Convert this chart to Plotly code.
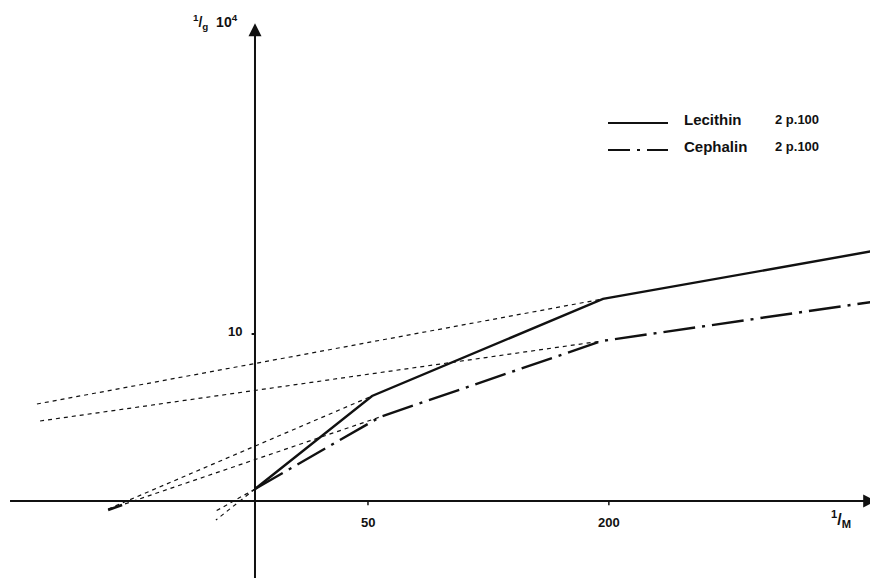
import plotly.graph_objects as go

# ---- data (axis units: x = graphical 1/M position, y = 1/g * 10^4) ----
X_TICK_LABELS = ["50", "200"]
X_TICK_POS = [50.0, 156.6]
Y_TICK_LABELS = ["10"]
Y_TICK_POS = [10.0]

lec_x = [0.0, 51.8, 154.0, 273.5]
lec_y = [0.72, 6.29, 12.10, 14.97]
cep_x = [0.0, 55.3, 153.5, 273.0]
cep_y = [0.72, 5.03, 9.58, 11.92]

# extrapolation (dotted) lines
lec_ext_last_x = [-96.5, 154.0]
lec_ext_last_y = [5.81, 12.10]
cep_ext_last_x = [-95.1, 153.5]
cep_ext_last_y = [4.79, 9.58]
lec_ext_mid_x = [-65.0, 51.8]
lec_ext_mid_y = [-0.48, 6.29]
cep_ext_mid_x = [-64.2, 55.3]
cep_ext_mid_y = [-0.48, 5.03]
lec_ext_first_x = [0.0, -17.3]
lec_ext_first_y = [0.72, -1.14]
cep_ext_first_x = [0.0, -17.3]
cep_ext_first_y = [0.72, -0.60]
start_stroke_x = [-65.0, -58.8]
start_stroke_y = [-0.54, -0.24]

X_RANGE = [-109.3, 275.7]
Y_RANGE = [-4.61, 29.52]
X_AXIS_SPAN = [-108.4, 274.0]
Y_AXIS_SPAN = [-4.61, 28.0]

W, H, OFF = 870, 570, 8   # page body margin of 8px

def px(x):
    return (x - OFF) / W

def py(y):
    return 1 - (y - OFF) / H

FONT = "Liberation Sans, Arial"
BLACK = "#111111"

fig = go.Figure()

def line(x, y, width=1.0, dash="solid"):
    fig.add_trace(go.Scatter(x=x, y=y, mode="lines",
                             line=dict(color=BLACK, width=width, dash=dash),
                             showlegend=False, hoverinfo="skip"))

dot = "4px,4px"
line(lec_ext_last_x, lec_ext_last_y, 1.2, dot)
line(cep_ext_last_x, cep_ext_last_y, 1.2, dot)
line(lec_ext_mid_x, lec_ext_mid_y, 1.2, dot)
line(cep_ext_mid_x, cep_ext_mid_y, 1.2, dot)
line(lec_ext_first_x, lec_ext_first_y, 1.2, dot)
line(cep_ext_first_x, cep_ext_first_y, 1.2, dot)
line(start_stroke_x, start_stroke_y, 2.5)

# axes
line(X_AXIS_SPAN, [0, 0], 2.0)
line([0, 0], Y_AXIS_SPAN, 2.0)

# data series
dashdot = "32px,7px,3px,7px"
line(lec_x, lec_y, 2.4)
line(cep_x, cep_y, 2.4, dashdot)

# legend samples
fig.add_shape(type="line", xref="paper", yref="paper",
              x0=px(608), x1=px(668), y0=py(123), y1=py(123),
              line=dict(color=BLACK, width=2))
fig.add_shape(type="line", xref="paper", yref="paper",
              x0=px(608), x1=px(668), y0=py(150), y1=py(150),
              line=dict(color=BLACK, width=2, dash="22px,7px,3px,7px"))
for yy, name in [(120, "Lecithin"), (146, "Cephalin")]:
    fig.add_annotation(xref="paper", yref="paper", x=px(682), y=py(yy),
                       text=f"<b>{name}</b>", showarrow=False, xanchor="left", yanchor="middle",
                       font=dict(family=FONT, size=15, color=BLACK))
    fig.add_annotation(xref="paper", yref="paper", x=px(773), y=py(yy),
                       text="<b>2 p.100</b>", showarrow=False, xanchor="left", yanchor="middle",
                       font=dict(family=FONT, size=13, color=BLACK))

# arrowheads
fig.add_annotation(x=X_RANGE[1] - 0.8, y=0, ax=X_AXIS_SPAN[1] - 10, ay=0,
                   xref="x", yref="y", axref="x", ayref="y", text="",
                   showarrow=True, arrowhead=2, arrowsize=1.3, arrowwidth=2, arrowcolor=BLACK)
fig.add_annotation(x=0, y=Y_AXIS_SPAN[1] + 0.6, ax=0, ay=Y_AXIS_SPAN[1] - 1,
                   xref="x", yref="y", axref="x", ayref="y", text="",
                   showarrow=True, arrowhead=2, arrowsize=1.3, arrowwidth=2, arrowcolor=BLACK)

# tick marks and labels
for pos, lab in zip(X_TICK_POS, X_TICK_LABELS):
    line([pos, pos], [0, -0.25], 1.5)
    fig.add_annotation(x=pos, y=0, text=f"<b>{lab}</b>", showarrow=False,
                       yanchor="top", yshift=-12, font=dict(family=FONT, size=13, color=BLACK))
for pos, lab in zip(Y_TICK_POS, Y_TICK_LABELS):
    line([0, -1.5], [pos, pos], 2)
    fig.add_annotation(x=0, y=pos, text=f"<b>{lab}</b>", showarrow=False,
                       xanchor="right", xshift=-11, yshift=3, font=dict(family=FONT, size=13, color=BLACK))

# axis titles
fig.add_annotation(xref="paper", yref="paper", x=px(240), y=py(10),
                   text="<b><sup>1</sup>/<sub>g</sub>  10<sup>4</sup></b>",
                   showarrow=False, xanchor="right", yanchor="top",
                   font=dict(family=FONT, size=14, color=BLACK))
fig.add_annotation(xref="paper", yref="paper", x=px(853), y=py(506),
                   text="<b><sup>1</sup>/<sub>M</sub></b>",
                   showarrow=False, xanchor="right", yanchor="top",
                   font=dict(family=FONT, size=16, color=BLACK))

fig.update_layout(
    width=W, height=H,
    margin=dict(l=0, r=0, t=0, b=0),
    paper_bgcolor="white", plot_bgcolor="white",
    xaxis=dict(range=X_RANGE, visible=False, fixedrange=True),
    yaxis=dict(range=Y_RANGE, visible=False, fixedrange=True),
    showlegend=False,
)

fig.write_html("out.html")
